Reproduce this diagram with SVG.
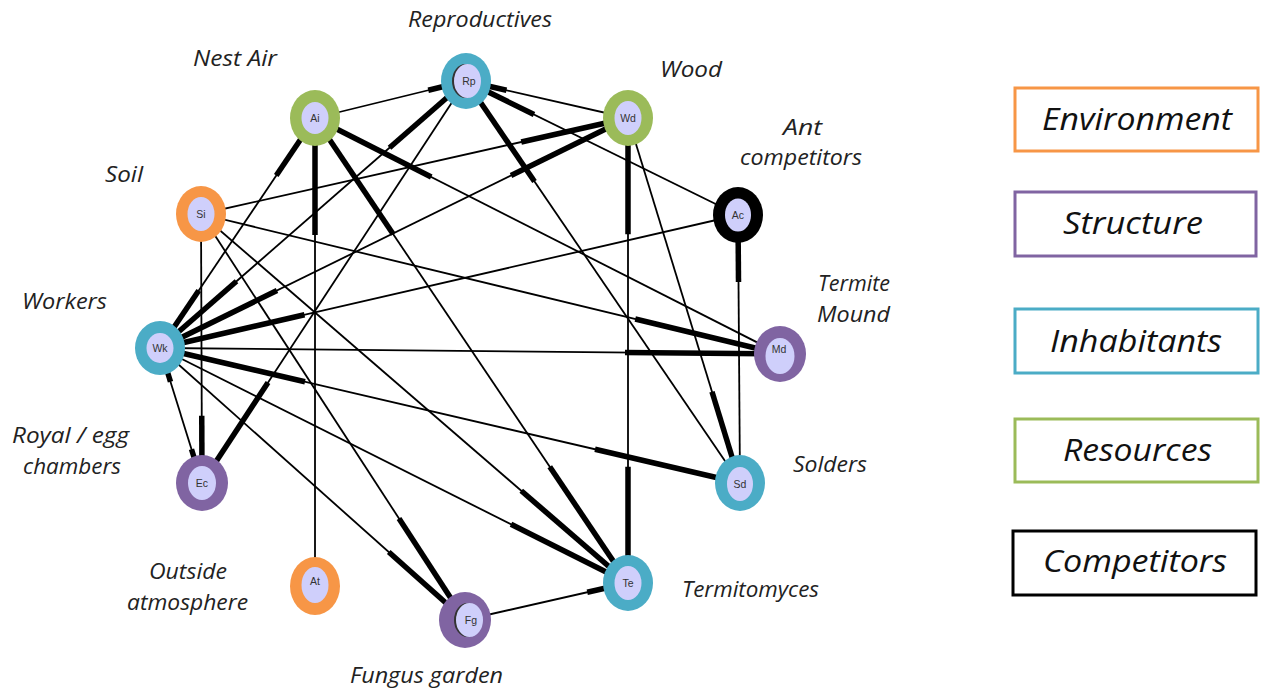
<svg xmlns="http://www.w3.org/2000/svg" width="1261" height="691" viewBox="0 0 1261 691">
<style>
.bg{fill:#ffffff}
.thin{stroke:#000;stroke-width:1.8;fill:none;stroke-linecap:butt}
.thick{stroke:#000;stroke-width:5.5;fill:none;stroke-linecap:butt}
.ring{stroke:none}
.env{fill:#f79646}.str{fill:#8064a2}.inh{fill:#4bacc6}.res{fill:#9bbb59}.comp{fill:#000}
.inner{fill:#cfcffb}
.shadow{fill:#333}
.nid{font-family:"Liberation Sans",Arial,sans-serif;font-size:10.5px;fill:#333;text-anchor:middle}
.lbl{font-family:"Open Sans","Liberation Sans",sans-serif;font-style:italic;font-size:21px;fill:#222}
.leg{font-family:"Open Sans","Liberation Sans",sans-serif;font-style:italic;font-size:31px;fill:#111}
.box{fill:#fff;stroke-width:3}
</style>
<rect class="bg" x="0" y="0" width="1261" height="691"/>

<g id="connectors">
  <line class="thin" x1="315" y1="118" x2="466" y2="81"/>
  <line class="thick" x1="466" y1="81" x2="428.25" y2="90.25"/>
  <line class="thin" x1="628" y1="118" x2="466" y2="81"/>
  <line class="thick" x1="466" y1="81" x2="506.5" y2="90.25"/>
  <line class="thin" x1="466" y1="81" x2="160" y2="348"/>
  <line class="thick" x1="466" y1="81" x2="389.5" y2="147.75"/>
  <line class="thick" x1="160" y1="348" x2="236.5" y2="281.25"/>
  <line class="thin" x1="466" y1="81" x2="202" y2="483"/>
  <line class="thick" x1="202" y1="483" x2="268" y2="382.5"/>
  <line class="thin" x1="466" y1="81" x2="740" y2="483"/>
  <line class="thick" x1="466" y1="81" x2="534.5" y2="181.5"/>
  <line class="thin" x1="466" y1="81" x2="738" y2="215"/>
  <line class="thick" x1="466" y1="81" x2="534" y2="114.5"/>
  <line class="thin" x1="315" y1="118" x2="160" y2="348"/>
  <line class="thick" x1="315" y1="118" x2="276.25" y2="175.5"/>
  <line class="thick" x1="160" y1="348" x2="198.75" y2="290.5"/>
  <line class="thin" x1="315" y1="118" x2="315" y2="586"/>
  <line class="thick" x1="315" y1="118" x2="315" y2="235"/>
  <line class="thin" x1="315" y1="118" x2="628" y2="583"/>
  <line class="thick" x1="315" y1="118" x2="393.25" y2="234.25"/>
  <line class="thick" x1="628" y1="583" x2="549.75" y2="466.75"/>
  <line class="thin" x1="315" y1="118" x2="780" y2="354"/>
  <line class="thick" x1="315" y1="118" x2="431.25" y2="177"/>
  <line class="thin" x1="628" y1="118" x2="201" y2="214"/>
  <line class="thick" x1="628" y1="118" x2="521.25" y2="142"/>
  <line class="thin" x1="628" y1="118" x2="160" y2="348"/>
  <line class="thick" x1="628" y1="118" x2="511" y2="175.5"/>
  <line class="thick" x1="160" y1="348" x2="277" y2="290.5"/>
  <line class="thin" x1="628" y1="118" x2="628" y2="583"/>
  <line class="thick" x1="628" y1="118" x2="628" y2="234.25"/>
  <line class="thick" x1="628" y1="583" x2="628" y2="466.75"/>
  <line class="thin" x1="628" y1="118" x2="740" y2="483"/>
  <line class="thick" x1="740" y1="483" x2="712" y2="391.75"/>
  <line class="thin" x1="201" y1="214" x2="202" y2="483"/>
  <line class="thick" x1="202" y1="483" x2="201.75" y2="415.75"/>
  <line class="thin" x1="201" y1="214" x2="628" y2="583"/>
  <line class="thick" x1="628" y1="583" x2="521.25" y2="490.75"/>
  <line class="thin" x1="201" y1="214" x2="465" y2="620"/>
  <line class="thick" x1="465" y1="620" x2="399" y2="518.5"/>
  <line class="thin" x1="201" y1="214" x2="780" y2="354"/>
  <line class="thick" x1="780" y1="354" x2="635.25" y2="319"/>
  <line class="thin" x1="160" y1="348" x2="738" y2="215"/>
  <line class="thick" x1="160" y1="348" x2="304.5" y2="314.75"/>
  <line class="thin" x1="160" y1="348" x2="780" y2="354"/>
  <line class="thick" x1="780" y1="354" x2="625" y2="352.5"/>
  <line class="thin" x1="160" y1="348" x2="740" y2="483"/>
  <line class="thick" x1="160" y1="348" x2="305" y2="381.75"/>
  <line class="thick" x1="740" y1="483" x2="595" y2="449.25"/>
  <line class="thin" x1="160" y1="348" x2="202" y2="483"/>
  <line class="thick" x1="160" y1="348" x2="170.5" y2="381.75"/>
  <line class="thick" x1="202" y1="483" x2="191.5" y2="449.25"/>
  <line class="thin" x1="160" y1="348" x2="628" y2="583"/>
  <line class="thick" x1="628" y1="583" x2="511" y2="524.25"/>
  <line class="thin" x1="160" y1="348" x2="465" y2="620"/>
  <line class="thick" x1="465" y1="620" x2="388.75" y2="552"/>
  <line class="thin" x1="738" y1="215" x2="740" y2="483"/>
  <line class="thick" x1="738" y1="215" x2="738.5" y2="282"/>
  <line class="thin" x1="465" y1="620" x2="628" y2="583"/>
  <line class="thick" x1="628" y1="583" x2="587.25" y2="592.25"/>
</g>

<g id="node-Rp">
  <ellipse class="ring inh" cx="466" cy="81" rx="25" ry="28"/>
  <ellipse class="shadow" cx="465.5" cy="81" rx="13.5" ry="17"/>
  <ellipse class="inner" cx="467.5" cy="81" rx="13.5" ry="17"/>
  <text class="nid" x="469" y="85">Rp</text>
</g>
<g id="node-Ai">
  <ellipse class="ring res" cx="315" cy="118" rx="25" ry="28"/>
  <ellipse class="inner" cx="315" cy="118" rx="13.5" ry="16"/>
  <text class="nid" x="315" y="122">Ai</text>
</g>
<g id="node-Wd">
  <ellipse class="ring res" cx="628" cy="118" rx="25" ry="28"/>
  <ellipse class="inner" cx="628" cy="118" rx="13.5" ry="17"/>
  <text class="nid" x="628" y="122">Wd</text>
</g>
<g id="node-Si">
  <ellipse class="ring env" cx="201" cy="214" rx="25" ry="28"/>
  <ellipse class="inner" cx="201" cy="214" rx="13.5" ry="17"/>
  <text class="nid" x="201" y="218">Si</text>
</g>
<g id="node-Ac">
  <ellipse class="ring comp" cx="738" cy="215" rx="25" ry="28"/>
  <ellipse class="inner" cx="738" cy="215" rx="13" ry="16.5"/>
  <text class="nid" x="738" y="219">Ac</text>
</g>
<g id="node-Wk">
  <ellipse class="ring inh" cx="160" cy="348" rx="25" ry="27"/>
  <ellipse class="inner" cx="160" cy="348" rx="13.5" ry="15"/>
  <text class="nid" x="160" y="352">Wk</text>
</g>
<g id="node-Md">
  <ellipse class="ring str" cx="780" cy="354" rx="26" ry="28"/>
  <ellipse class="inner" cx="780" cy="356" rx="14.5" ry="18"/>
  <text class="nid" x="779" y="353">Md</text>
</g>
<g id="node-Ec">
  <ellipse class="ring str" cx="202" cy="483" rx="26" ry="28"/>
  <ellipse class="inner" cx="202" cy="483" rx="14" ry="17"/>
  <text class="nid" x="202" y="487">Ec</text>
</g>
<g id="node-Sd">
  <ellipse class="ring inh" cx="740" cy="483" rx="25" ry="28"/>
  <ellipse class="inner" cx="740" cy="484" rx="13" ry="17"/>
  <text class="nid" x="740" y="488">Sd</text>
</g>
<g id="node-At">
  <ellipse class="ring env" cx="315" cy="586" rx="25" ry="29"/>
  <ellipse class="inner" cx="315" cy="585" rx="13.5" ry="18"/>
  <text class="nid" x="315" y="585">At</text>
</g>
<g id="node-Te">
  <ellipse class="ring inh" cx="628" cy="583" rx="25" ry="28"/>
  <ellipse class="inner" cx="628" cy="583" rx="13.5" ry="17"/>
  <text class="nid" x="628" y="587">Te</text>
</g>
<g id="node-Fg">
  <ellipse class="ring str" cx="465" cy="620" rx="26" ry="28"/>
  <ellipse class="shadow" cx="467.5" cy="620" rx="13.5" ry="17"/>
  <ellipse class="inner" cx="469.5" cy="620" rx="13.5" ry="17"/>
  <text class="nid" x="471" y="624">Fg</text>
</g>

<g id="labels">
  <text class="lbl" x="408" y="27" textLength="144" lengthAdjust="spacingAndGlyphs">Reproductives</text>
  <text class="lbl" x="193" y="66" textLength="84" lengthAdjust="spacingAndGlyphs">Nest Air</text>
  <text class="lbl" x="660" y="77" textLength="62" lengthAdjust="spacingAndGlyphs">Wood</text>
  <text class="lbl" x="783" y="135" textLength="39" lengthAdjust="spacingAndGlyphs">Ant</text>
  <text class="lbl" x="740" y="165" textLength="122" lengthAdjust="spacingAndGlyphs">competitors</text>
  <text class="lbl" x="105" y="182" textLength="38" lengthAdjust="spacingAndGlyphs">Soil</text>
  <text class="lbl" x="818" y="291" textLength="72" lengthAdjust="spacingAndGlyphs">Termite</text>
  <text class="lbl" x="817" y="322" textLength="73" lengthAdjust="spacingAndGlyphs">Mound</text>
  <text class="lbl" x="22" y="309" textLength="85" lengthAdjust="spacingAndGlyphs">Workers</text>
  <text class="lbl" x="12" y="443" textLength="117" lengthAdjust="spacingAndGlyphs">Royal / egg</text>
  <text class="lbl" x="23" y="474" textLength="98" lengthAdjust="spacingAndGlyphs">chambers</text>
  <text class="lbl" x="793" y="472" textLength="74" lengthAdjust="spacingAndGlyphs">Solders</text>
  <text class="lbl" x="149" y="579" textLength="78" lengthAdjust="spacingAndGlyphs">Outside</text>
  <text class="lbl" x="127" y="610" textLength="121" lengthAdjust="spacingAndGlyphs">atmosphere</text>
  <text class="lbl" x="682" y="597" textLength="137" lengthAdjust="spacingAndGlyphs">Termitomyces</text>
  <text class="lbl" x="350" y="683" textLength="153" lengthAdjust="spacingAndGlyphs">Fungus garden</text>
</g>

<g id="legend-environment">
  <rect class="box" x="1015" y="88" width="243" height="63" stroke="#f79646"/>
  <text class="leg" x="1042" y="130" textLength="190" lengthAdjust="spacingAndGlyphs">Environment</text>
</g>
<g id="legend-structure">
  <rect class="box" x="1015" y="192" width="241" height="64" stroke="#8064a2"/>
  <text class="leg" x="1063" y="234" textLength="140" lengthAdjust="spacingAndGlyphs">Structure</text>
</g>
<g id="legend-inhabitants">
  <rect class="box" x="1015" y="309" width="243" height="64" stroke="#4bacc6"/>
  <text class="leg" x="1050" y="352" textLength="172" lengthAdjust="spacingAndGlyphs">Inhabitants</text>
</g>
<g id="legend-resources">
  <rect class="box" x="1015" y="419" width="243" height="63" stroke="#9bbb59"/>
  <text class="leg" x="1063" y="461" textLength="149" lengthAdjust="spacingAndGlyphs">Resources</text>
</g>
<g id="legend-competitors">
  <rect class="box" x="1013" y="531" width="243" height="64" stroke="#000000"/>
  <text class="leg" x="1043" y="572" textLength="184" lengthAdjust="spacingAndGlyphs">Competitors</text>
</g>
</svg>
